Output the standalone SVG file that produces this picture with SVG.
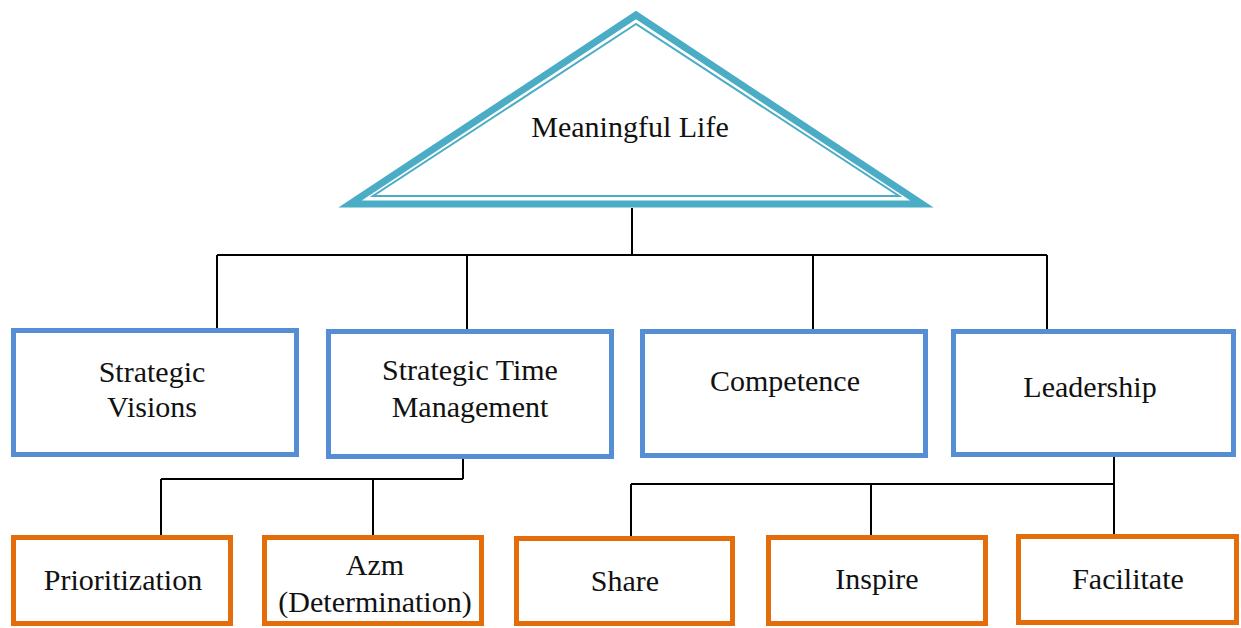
<svg xmlns="http://www.w3.org/2000/svg" width="1241" height="628" viewBox="0 0 1241 628">
<style>
.t{font-family:"Liberation Serif","Times New Roman",serif;font-size:30px;fill:#111;text-anchor:middle}
.b{fill:#fff;stroke:#558ED5;stroke-width:5}
.o{fill:#fff;stroke:#E46C0A;stroke-width:5}
.c{fill:none;stroke:#000;stroke-width:2}
</style>
<rect width="1241" height="628" fill="#fff"/>
<g id="connectors">
<path class="c" d="M632 208V255M217 255H1047M217 255V328M467 255V329M813 255V329M1047 255V329"/>
<path class="c" d="M463 459V479M161 479H463M161 479V535M373 479V535"/>
<path class="c" d="M1114 457V534M631 484H1114M631 484V536M871 484V535"/>
</g>
<g id="meaningful-life">
<polygon points="636,15 350,204 922,204" fill="#fff" stroke="#4BACC6" stroke-width="7" stroke-linejoin="miter"/>
<polygon points="636,24 373,196 899,196" fill="none" stroke="#4BACC6" stroke-width="2"/>
<text class="t" x="630" y="137">Meaningful Life</text>
</g>
<g id="strategic-visions">
<rect class="b" x="13.5" y="330.5" width="283" height="124"/>
<text class="t" x="152" y="382">Strategic</text>
<text class="t" x="152" y="417">Visions</text>
</g>
<g id="strategic-time-management">
<rect class="b" x="328.5" y="331.5" width="283" height="125"/>
<text class="t" x="470" y="380">Strategic Time</text>
<text class="t" x="470" y="417">Management</text>
</g>
<g id="competence">
<rect class="b" x="642.5" y="331.5" width="283" height="124"/>
<text class="t" x="785" y="391">Competence</text>
</g>
<g id="leadership">
<rect class="b" x="953.5" y="331.5" width="280" height="123"/>
<text class="t" x="1090" y="397">Leadership</text>
</g>
<g id="prioritization">
<rect class="o" x="13.5" y="537.5" width="217" height="86"/>
<text class="t" x="123" y="590">Prioritization</text>
</g>
<g id="azm">
<rect class="o" x="264.5" y="537.5" width="217" height="86"/>
<text class="t" x="375" y="575">Azm</text>
<text class="t" x="375" y="612">(Determination)</text>
</g>
<g id="share">
<rect class="o" x="516.5" y="538.5" width="216" height="85"/>
<text class="t" x="625" y="591">Share</text>
</g>
<g id="inspire">
<rect class="o" x="768.5" y="537.5" width="217" height="86"/>
<text class="t" x="877" y="589">Inspire</text>
</g>
<g id="facilitate">
<rect class="o" x="1018.5" y="536.5" width="218" height="86"/>
<text class="t" x="1128" y="589">Facilitate</text>
</g>
</svg>
